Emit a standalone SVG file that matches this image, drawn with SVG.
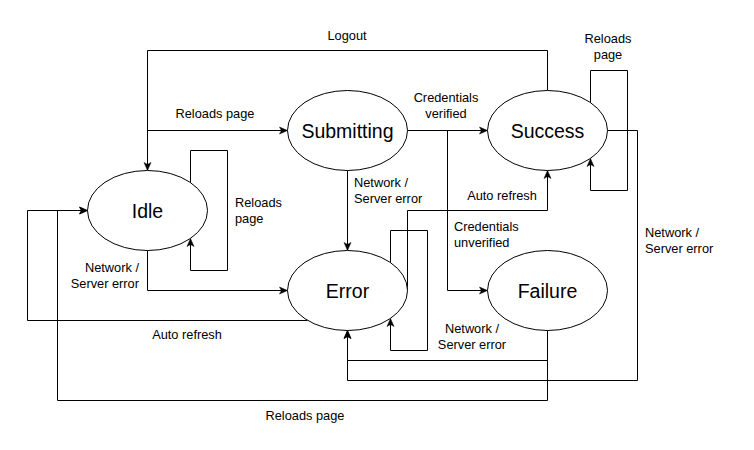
<svg xmlns="http://www.w3.org/2000/svg" width="754" height="450" viewBox="0 0 754 450">
<style>
.node ellipse{fill:#fff;stroke:#000;stroke-width:1}
.node text{font-family:"Liberation Sans",Arial,sans-serif;font-size:19.5px;text-anchor:middle;fill:#000}
.edge{fill:none;stroke:#000;stroke-width:1}
.lbl{font-family:"Liberation Sans",Arial,sans-serif;font-size:12.8px;fill:#000}
</style>
<defs>
<marker id="arr" markerUnits="userSpaceOnUse" markerWidth="10" markerHeight="8" refX="9" refY="4" orient="auto" overflow="visible">
<path d="M1,0.5 L9,4 L1,7.5 L3,4 Z" fill="#000" stroke="#000" stroke-width="0.5"/>
</marker>
</defs>
<rect width="754" height="450" fill="#fff"/>
<g id="connectors" transform="translate(0.5,0.5)">
<path class="edge" d="M547,90 L547,50 L147,50 L147,170" marker-end="url(#arr)"/>
<path class="edge" d="M147,130 L287,130" marker-end="url(#arr)"/>
<path class="edge" d="M190,182 L190,150 L227,150 L227,270 L190,270 L190,238" marker-end="url(#arr)"/>
<path class="edge" d="M147,250 L147,290 L287,290" marker-end="url(#arr)"/>
<path class="edge" d="M307,320 L27,320 L27,210 L87,210" marker-end="url(#arr)"/>
<path class="edge" d="M547,330 L547,400 L57,400 L57,210 L87,210" marker-end="url(#arr)"/>
<path class="edge" d="M347,170 L347,250" marker-end="url(#arr)"/>
<path class="edge" d="M407,130 L487,130" marker-end="url(#arr)"/>
<path class="edge" d="M447,130 L447,290 L487,290" marker-end="url(#arr)"/>
<path class="edge" d="M407,290 L407,210 L547,210 L547,170" marker-end="url(#arr)"/>
<path class="edge" d="M390,262 L390,230 L427,230 L427,350 L390,350 L390,318" marker-end="url(#arr)"/>
<path class="edge" d="M547,330 L547,360 L347,360 L347,330" marker-end="url(#arr)"/>
<path class="edge" d="M607,130 L637,130 L637,380 L347,380 L347,330" marker-end="url(#arr)"/>
<path class="edge" d="M590,102 L590,70 L627,70 L627,190 L590,190 L590,158" marker-end="url(#arr)"/>
</g>
<g id="labels">
<text class="lbl" x="347" y="40" text-anchor="middle">Logout</text>
<text class="lbl" x="215" y="118" text-anchor="middle">Reloads page</text>
<text class="lbl" x="235" y="207">Reloads</text>
<text class="lbl" x="235" y="223">page</text>
<text class="lbl" x="139" y="272" text-anchor="end">Network /</text>
<text class="lbl" x="139" y="288" text-anchor="end">Server error</text>
<text class="lbl" x="187" y="339" text-anchor="middle">Auto refresh</text>
<text class="lbl" x="305" y="420" text-anchor="middle">Reloads page</text>
<text class="lbl" x="354" y="187">Network /</text>
<text class="lbl" x="354" y="203">Server error</text>
<text class="lbl" x="446" y="102" text-anchor="middle">Credentials</text>
<text class="lbl" x="446" y="118" text-anchor="middle">verified</text>
<text class="lbl" x="502" y="200" text-anchor="middle">Auto refresh</text>
<text class="lbl" x="454" y="231">Credentials</text>
<text class="lbl" x="454" y="247">unverified</text>
<text class="lbl" x="472" y="333" text-anchor="middle">Network /</text>
<text class="lbl" x="472" y="349" text-anchor="middle">Server error</text>
<text class="lbl" x="645" y="237">Network /</text>
<text class="lbl" x="645" y="253">Server error</text>
<text class="lbl" x="608" y="43" text-anchor="middle">Reloads</text>
<text class="lbl" x="608" y="59" text-anchor="middle">page</text>
</g>
<g id="node-idle" class="node"><ellipse cx="147.5" cy="210.5" rx="60" ry="40"/><text x="147.5" y="217.5">Idle</text></g>
<g id="node-submitting" class="node"><ellipse cx="347.5" cy="130.5" rx="60" ry="40"/><text x="347.5" y="137.5">Submitting</text></g>
<g id="node-success" class="node"><ellipse cx="547.5" cy="130.5" rx="60" ry="40"/><text x="547.5" y="137.5">Success</text></g>
<g id="node-error" class="node"><ellipse cx="347.5" cy="290.5" rx="60" ry="40"/><text x="347.5" y="297.5">Error</text></g>
<g id="node-failure" class="node"><ellipse cx="547.5" cy="290.5" rx="60" ry="40"/><text x="547.5" y="297.5">Failure</text></g>
</svg>
